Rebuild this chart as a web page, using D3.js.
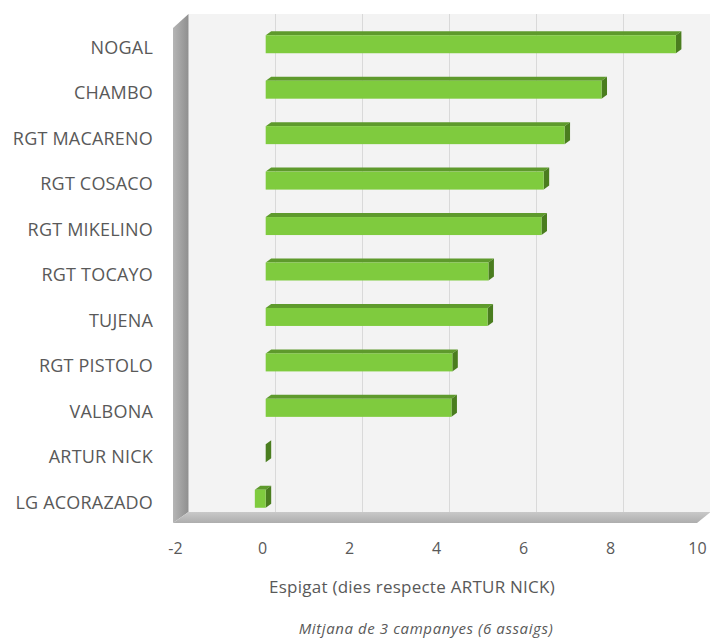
<!DOCTYPE html>
<html>
<head>
<meta charset="utf-8">
<script src="https://cdn.jsdelivr.net/npm/d3@7"></script>
<style>
  body { margin: 0; background: #fff; }
  text { font-family: "Open Sans", "DejaVu Sans", sans-serif; fill: #595959; }
</style>
</head>
<body>
<div id="chart"></div>
<script>
var categories = ["NOGAL", "CHAMBO", "RGT MACARENO", "RGT COSACO", "RGT MIKELINO", "RGT TOCAYO",
    "TUJENA", "RGT PISTOLO", "VALBONA", "ARTUR NICK", "LG ACORAZADO"];
var values = [9.43, 7.72, 6.87, 6.39, 6.34, 5.12, 5.10, 4.29, 4.27, 0, -0.25];
var xTicks = [-2, 0, 2, 4, 6, 8, 10];
var xTitle = "Espigat (dies respecte ARTUR NICK)";
var note = "Mitjana de 3 campanyes (6 assaigs)";

var width = 710, height = 641;
// 3D offsets: wall depth and bar depth
var wall = { dx: 13.5, dy: -11 },
    barOff = { dx: 3.7, dy: -3.5 },
    barDepth = { dx: 5.5, dy: -4 },
    barH = 18;

var x = d3.scaleLinear().domain([-2, 10]).range([175, 697]);
var y = d3.scaleBand().domain(categories).range([25, 525]);

var svg = d3.select("#chart").append("svg")
    .attr("width", width)
    .attr("height", height);

var defs = svg.append("defs");
var g1 = defs.append("linearGradient").attr("id", "wallGrad").attr("x1", 0).attr("x2", 1);
g1.append("stop").attr("offset", 0).attr("stop-color", "#b5b5b5");
g1.append("stop").attr("offset", 1).attr("stop-color", "#8f8f8f");
var g2 = defs.append("linearGradient").attr("id", "floorGrad").attr("x1", 0).attr("x2", 0).attr("y1", 0).attr("y2", 1);
g2.append("stop").attr("offset", 0).attr("stop-color", "#c9c9c9");
g2.append("stop").attr("offset", 1).attr("stop-color", "#adadad");
defs.append("clipPath").attr("id", "labClip")
    .append("rect").attr("x", 9).attr("y", 0).attr("width", 200).attr("height", height);

var line = d3.line();
var top0 = 14, bot0 = 523;

// back wall
svg.append("rect")
    .attr("x", x(-2) + wall.dx)
    .attr("y", top0)
    .attr("width", width - (x(-2) + wall.dx))
    .attr("height", bot0 + wall.dy - top0)
    .attr("fill", "#f3f3f3");

// gridlines on the back wall
svg.selectAll(".grid")
    .data(xTicks.slice(1))
    .enter().append("line")
    .attr("class", "grid")
    .attr("x1", function(d) { return x(d) + wall.dx; })
    .attr("x2", function(d) { return x(d) + wall.dx; })
    .attr("y1", top0)
    .attr("y2", bot0 + wall.dy)
    .attr("stroke", "#d9d9d9")
    .attr("stroke-width", 1);

// left wall
svg.append("path")
    .attr("d", line([[x(-2) - 2, top0 - wall.dy + 3], [x(-2) + wall.dx, top0], [x(-2) + wall.dx, bot0 + wall.dy], [x(-2) - 2, bot0]]) + "Z")
    .attr("fill", "url(#wallGrad)");

// floor
svg.append("path")
    .attr("d", line([[x(-2) - 2, bot0], [x(-2) + wall.dx, bot0 + wall.dy], [x(10) + wall.dx, bot0 + wall.dy], [x(10), bot0]]) + "Z")
    .attr("fill", "url(#floorGrad)");

// bars
var bars = svg.selectAll(".bar")
    .data(categories.map(function(c, i) { return { name: c, v: values[i] }; }))
    .enter().append("g")
    .attr("class", "bar");

function faces(d) {
    var xa = Math.min(x(0), x(d.v)) + barOff.dx,
        xb = Math.max(x(0), x(d.v)) + barOff.dx,
        yc = y(d.name) + y.bandwidth() / 2 + barOff.dy,
        yt = yc - barH / 2,
        yb = yc + barH / 2;
    return { xa: xa, xb: xb, yt: yt, yb: yb };
}

bars.append("path")
    .attr("d", function(d) {
        var f = faces(d);
        return line([[f.xa, f.yt], [f.xb, f.yt], [f.xb + barDepth.dx, f.yt + barDepth.dy], [f.xa + barDepth.dx, f.yt + barDepth.dy]]) + "Z";
    })
    .attr("fill", "#5e9a2c");

bars.append("path")
    .attr("d", function(d) {
        var f = faces(d);
        return line([[f.xb, f.yt], [f.xb + barDepth.dx, f.yt + barDepth.dy], [f.xb + barDepth.dx, f.yb + barDepth.dy], [f.xb, f.yb]]) + "Z";
    })
    .attr("fill", "#4a7d1f");

bars.append("rect")
    .attr("x", function(d) { return faces(d).xa; })
    .attr("y", function(d) { return faces(d).yt; })
    .attr("width", function(d) { var f = faces(d); return f.xb - f.xa; })
    .attr("height", barH)
    .attr("fill", "#7fcb3e");

// category labels
svg.append("g")
    .attr("clip-path", "url(#labClip)")
    .selectAll("text")
    .data(categories)
    .enter().append("text")
    .attr("x", 153)
    .attr("y", function(d) { return y(d) + y.bandwidth() / 2; })
    .attr("dy", "0.35em")
    .attr("text-anchor", "end")
    .style("font-size", "18px")
    .style("letter-spacing", "0.2px")
    .text(function(d) { return d; });

// x tick labels
var xAxis = d3.axisBottom(x).tickValues(xTicks).tickSize(0).tickPadding(0)
    .tickFormat(function(d) { return String(d); });
var ax = svg.append("g")
    .attr("transform", "translate(0,543)")
    .call(xAxis);
ax.select(".domain").remove();
ax.selectAll("text")
    .style("font-size", "16px")
    .style("font-family", "\"Open Sans\", sans-serif")
    .attr("fill", "#595959");

svg.append("text")
    .attr("x", 412)
    .attr("y", 593)
    .attr("text-anchor", "middle")
    .style("font-size", "17px")
    .style("letter-spacing", "0.25px")
    .text(xTitle);

svg.append("text")
    .attr("x", 426)
    .attr("y", 634)
    .attr("text-anchor", "middle")
    .style("font-size", "15px")
    .style("font-style", "italic")
    .style("letter-spacing", "0.6px")
    .text(note);
</script>
</body>
</html>
